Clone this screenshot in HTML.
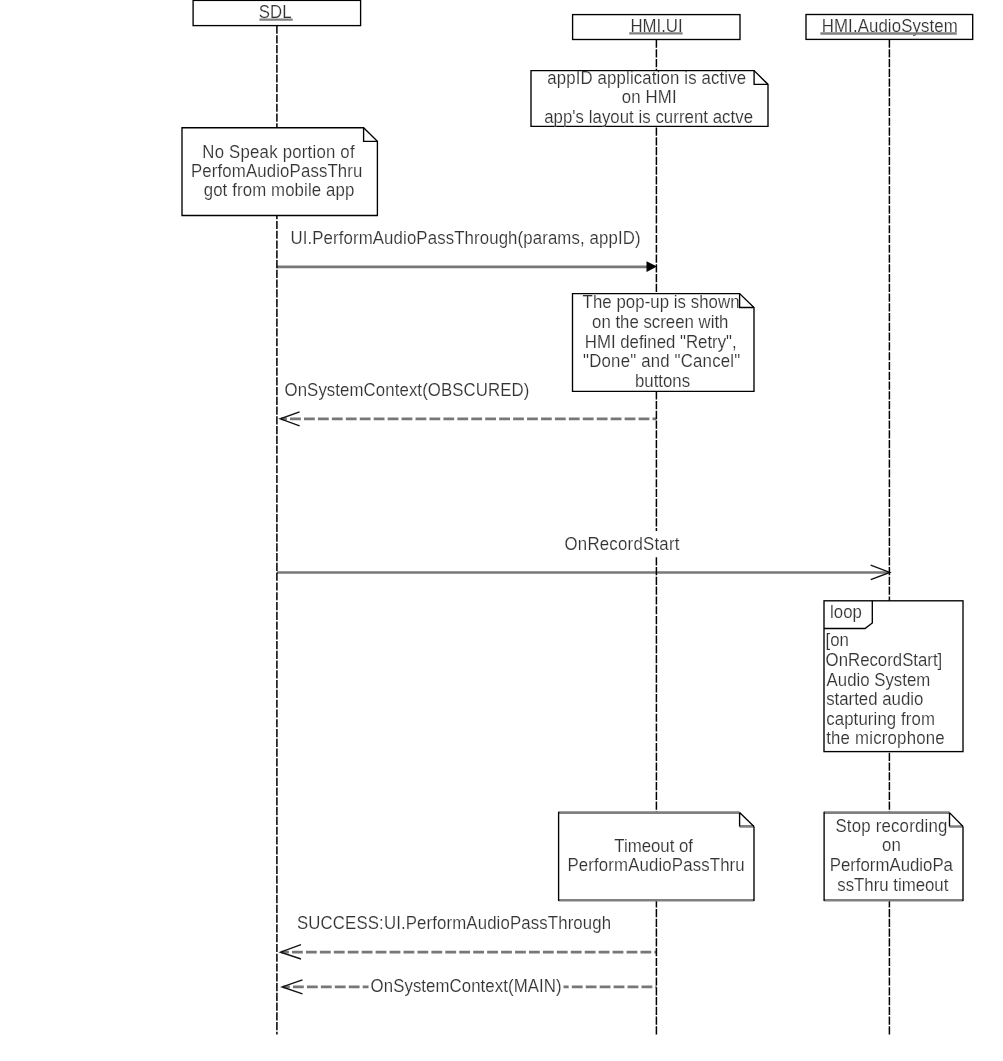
<!DOCTYPE html>
<html><head><meta charset="utf-8">
<style>
html,body{margin:0;padding:0;background:#fff;}
body{width:1003px;height:1061px;overflow:hidden;}
svg{display:block;will-change:transform;}
text{font-family:"Liberation Sans",sans-serif;font-size:18.0px;fill:#333;stroke:#fff;stroke-width:0.15;paint-order:normal;}
.box{fill:#fff;stroke:#000;stroke-width:1.35;}
.bx{fill:none;stroke:#000;stroke-width:1.35;}
.gx{fill:none;stroke:#808080;stroke-width:2.6;}
.life{stroke:#000;stroke-width:1.5;stroke-dasharray:8.2 1.57;fill:none;}
.msg{stroke:#777;stroke-width:2.7;fill:none;}
.dmsg{stroke:#777;stroke-width:2.7;fill:none;stroke-dasharray:10.8 3.14;}
.arm{stroke:#111;stroke-width:1.4;fill:none;}
.ul{stroke:#808080;stroke-width:2.4;}
</style></head>
<body>
<svg width="1003" height="1061" viewBox="0 0 1003 1061">
<line class="msg" x1="277" y1="266.8" x2="648" y2="266.8"/>
<path d="M657 266.6 L646.5 261.2 L646.5 272 Z" fill="#000"/>
<line class="dmsg" x1="281" y1="418.8" x2="656.5" y2="418.8" stroke-dashoffset="4.88"/>
<polyline class="arm" points="299.6,411.8 280.3,418.8 299.6,425.9"/>
<line class="msg" x1="277" y1="572.5" x2="888" y2="572.5"/>
<polyline class="arm" points="870.7,565.2 889.8,572.4 870.7,579.7"/>
<line class="dmsg" x1="281" y1="952.1" x2="656.5" y2="952.1" stroke-dashoffset="2.94"/>
<polyline class="arm" points="301,944.6 280.5,952.1 301,959.0"/>
<line class="dmsg" x1="283" y1="986.9" x2="656.5" y2="986.9" stroke-dashoffset="3.94"/>
<polyline class="arm" points="302.5,979.8 282.2,986.9 302.5,993.8"/>
<line class="life" x1="276.9" y1="25.5" x2="276.9" y2="1034.5"/>
<line class="life" x1="656.4" y1="39.5" x2="656.4" y2="1034.5"/>
<line class="life" x1="889.4" y1="39.5" x2="889.4" y2="1034.5"/>
<rect class="box" x="193.1" y="0.4" width="167.5" height="25.2"/>
<text transform="translate(258.80 17.8) scale(0.9333 1)">SDL</text>
<line class="ul" x1="259.4" y1="19.6" x2="292.7" y2="19.6"/>
<rect class="box" x="572.6" y="14.6" width="167.4" height="24.9"/>
<text transform="translate(630.40 31.9) scale(0.9333 1)">HMI.UI</text>
<line class="ul" x1="629.2" y1="33.4" x2="682.6" y2="33.4"/>
<rect class="box" x="806" y="14.5" width="166.7" height="24.9"/>
<text transform="translate(821.80 31.9) scale(0.9333 1)" textLength="145.56" lengthAdjust="spacing">HMI.AudioSystem</text>
<line class="ul" x1="820.4" y1="33.5" x2="956.8" y2="33.5"/>
<path class="box" d="M531.0 70.6 H754.1 L768 84.4 V126.4 H531.0 Z"/>
<path class="bx" d="M754.1 70.6 V84.4 H768"/>
<text transform="translate(547.20 83.6) scale(0.9333 1)" textLength="213.12" lengthAdjust="spacing">appID application is active</text>
<text transform="translate(621.80 103.0) scale(0.9333 1)" textLength="58.76" lengthAdjust="spacing">on HMI</text>
<text transform="translate(544.20 123.2) scale(0.9333 1)" textLength="223.74" lengthAdjust="spacing">app's layout is current actve</text>
<path class="box" d="M182 127.7 H363.6 L377.4 141.3 V215.5 H182 Z"/>
<path class="bx" d="M363.6 127.7 V141.3 H377.4"/>
<text transform="translate(202.30 157.5) scale(0.9333 1)" textLength="163.20" lengthAdjust="spacing">No Speak portion of</text>
<text transform="translate(191.00 176.7) scale(0.9333 1)" textLength="183.67" lengthAdjust="spacing">PerfomAudioPassThru</text>
<text transform="translate(203.70 196.0) scale(0.9333 1)" textLength="161.34" lengthAdjust="spacing">got from mobile app</text>
<text transform="translate(290.40 244.1) scale(0.9333 1)" textLength="375.22" lengthAdjust="spacing">UI.PerformAudioPassThrough(params, appID)</text>
<path class="box" d="M572.5 293.6 H739.6 L754.0 307.5 V391.3 H572.5 Z"/>
<path class="bx" d="M739.6 293.6 V307.5 H754.0"/>
<text transform="translate(582.60 308.3) scale(0.9333 1)" textLength="168.16" lengthAdjust="spacing">The pop-up is shown</text>
<text transform="translate(592.10 327.8) scale(0.9333 1)">on the screen with</text>
<text transform="translate(584.80 348.0) scale(0.9333 1)">HMI defined "Retry",</text>
<text transform="translate(583.10 366.6) scale(0.9333 1)" textLength="168.28" lengthAdjust="spacing">"Done" and "Cancel"</text>
<text transform="translate(635.00 386.8) scale(0.9333 1)">buttons</text>
<text transform="translate(284.50 396.2) scale(0.9333 1)" textLength="262.37" lengthAdjust="spacing">OnSystemContext(OBSCURED)</text>
<rect x="562" y="531" width="120" height="26" fill="#fff"/>
<text transform="translate(564.50 549.8) scale(0.9333 1)" textLength="123.16" lengthAdjust="spacing">OnRecordStart</text>
<rect class="box" x="824.0" y="600.8" width="139.0" height="150.8"/>
<path class="bx" d="M824.0 628.5 H865 L872.3 623 V600.8"/>
<text transform="translate(830.10 618.4) scale(0.9333 1)">loop</text>
<text transform="translate(825.60 645.9) scale(0.9333 1)">[on</text>
<text transform="translate(825.60 666.2) scale(0.9333 1)">OnRecordStart]</text>
<text transform="translate(826.60 685.8) scale(0.9333 1)">Audio System</text>
<text transform="translate(826.20 705.1) scale(0.9333 1)">started audio</text>
<text transform="translate(826.20 724.5) scale(0.9333 1)" textLength="116.60" lengthAdjust="spacing">capturing from</text>
<text transform="translate(826.20 743.7) scale(0.9333 1)" textLength="126.94" lengthAdjust="spacing">the microphone</text>
<path d="M558.6 812.6 H739.6 L754.0 826.4 V900.3 H558.6 Z" fill="#fff"/>
<path class="gx" d="M558.6 812.6 H739.6 M558.6 900.3 H754.0 M739.6 826.4 H754.0"/>
<path class="bx" d="M558.6 811.8000000000001 V901.0999999999999 M754.0 826.4 V901.0999999999999 M739.6 812.6 L754.0 826.4 M739.6 812.6 V826.4"/>
<text transform="translate(614.30 851.8) scale(0.9333 1)">Timeout of</text>
<text transform="translate(567.50 871.2) scale(0.9333 1)" textLength="189.87" lengthAdjust="spacing">PerformAudioPassThru</text>
<path d="M824.1 812.6 H949.5 L963 826.5 V900.2 H824.1 Z" fill="#fff"/>
<path class="gx" d="M824.1 812.6 H949.5 M824.1 900.2 H963 M949.5 826.5 H963"/>
<path class="bx" d="M824.1 811.8000000000001 V901.0 M963 826.5 V901.0 M949.5 812.6 L963 826.5 M949.5 812.6 V826.5"/>
<text transform="translate(835.40 831.5) scale(0.9333 1)" textLength="119.90" lengthAdjust="spacing">Stop recording</text>
<text transform="translate(882.10 851.1) scale(0.9333 1)">on</text>
<text transform="translate(829.70 870.6) scale(0.9333 1)">PerformAudioPa</text>
<text transform="translate(837.30 891.0) scale(0.9333 1)">ssThru timeout</text>
<text transform="translate(297.00 929.4) scale(0.9333 1)" textLength="336.56" lengthAdjust="spacing">SUCCESS:UI.PerformAudioPassThrough</text>
<rect x="368.5" y="974" width="195" height="26" fill="#fff"/>
<text transform="translate(370.60 992.3) scale(0.9333 1)" textLength="204.58" lengthAdjust="spacing">OnSystemContext(MAIN)</text>
</svg>
</body></html>
